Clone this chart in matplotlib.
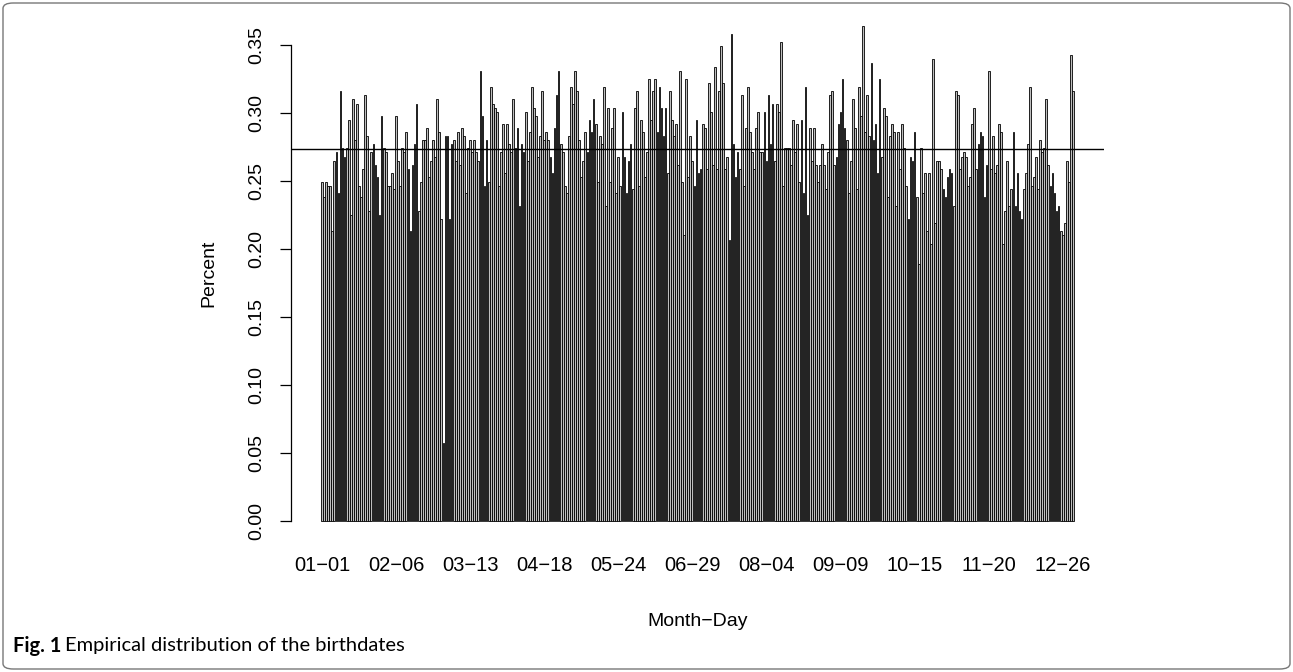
import matplotlib
matplotlib.use("Agg")
import matplotlib.pyplot as plt
from matplotlib.patches import FancyBboxPatch
import numpy as np

# percent of births on each calendar day (leap-year calendar, 366 days)
jan = [0.249, 0.238, 0.249, 0.246, 0.246, 0.213, 0.265, 0.271, 0.241, 0.316,
       0.274, 0.268, 0.274, 0.295, 0.225, 0.310, 0.280, 0.307, 0.246, 0.238,
       0.259, 0.313, 0.283, 0.228, 0.271, 0.277, 0.262, 0.253, 0.225, 0.298,
       0.274]
feb = [0.271, 0.246, 0.246, 0.256, 0.244, 0.298, 0.265, 0.246, 0.274, 0.271,
       0.286, 0.259, 0.213, 0.262, 0.277, 0.307, 0.228, 0.249, 0.280, 0.280,
       0.289, 0.253, 0.265, 0.280, 0.268, 0.310, 0.286, 0.222, 0.057]
mar = [0.283, 0.283, 0.222, 0.277, 0.280, 0.265, 0.286, 0.262, 0.289, 0.283,
       0.241, 0.274, 0.280, 0.271, 0.280, 0.271, 0.265, 0.331, 0.298, 0.246,
       0.280, 0.249, 0.319, 0.307, 0.304, 0.301, 0.246, 0.271, 0.292, 0.256,
       0.292]
apr = [0.277, 0.271, 0.310, 0.274, 0.289, 0.232, 0.277, 0.271, 0.301, 0.265,
       0.286, 0.319, 0.304, 0.298, 0.268, 0.283, 0.316, 0.280, 0.286, 0.280,
       0.268, 0.256, 0.289, 0.313, 0.331, 0.277, 0.271, 0.246, 0.241, 0.283]
may = [0.319, 0.307, 0.331, 0.316, 0.280, 0.253, 0.265, 0.286, 0.271, 0.295,
       0.286, 0.310, 0.292, 0.249, 0.283, 0.277, 0.319, 0.232, 0.304, 0.249,
       0.289, 0.304, 0.241, 0.268, 0.246, 0.301, 0.268, 0.241, 0.265, 0.277,
       0.244]
jun = [0.304, 0.316, 0.246, 0.295, 0.286, 0.253, 0.271, 0.325, 0.295, 0.316,
       0.325, 0.286, 0.319, 0.304, 0.283, 0.304, 0.256, 0.316, 0.295, 0.283,
       0.292, 0.262, 0.331, 0.249, 0.210, 0.325, 0.253, 0.283, 0.265, 0.246]
jul = [0.295, 0.256, 0.259, 0.292, 0.289, 0.259, 0.322, 0.301, 0.262, 0.334,
       0.259, 0.316, 0.349, 0.322, 0.259, 0.268, 0.207, 0.358, 0.277, 0.253,
       0.271, 0.259, 0.313, 0.246, 0.289, 0.319, 0.286, 0.271, 0.259, 0.289,
       0.301]
aug = [0.271, 0.271, 0.301, 0.265, 0.313, 0.277, 0.307, 0.265, 0.307, 0.301,
       0.352, 0.246, 0.274, 0.274, 0.274, 0.262, 0.295, 0.271, 0.292, 0.249,
       0.295, 0.241, 0.319, 0.225, 0.289, 0.265, 0.289, 0.262, 0.249, 0.262,
       0.277]
sep = [0.262, 0.244, 0.271, 0.313, 0.316, 0.262, 0.268, 0.292, 0.301, 0.325,
       0.289, 0.280, 0.241, 0.265, 0.310, 0.289, 0.244, 0.319, 0.298, 0.364,
       0.286, 0.313, 0.283, 0.337, 0.280, 0.292, 0.256, 0.325, 0.268, 0.304]
oct_ = [0.298, 0.238, 0.283, 0.292, 0.286, 0.232, 0.286, 0.259, 0.292, 0.274,
        0.246, 0.222, 0.268, 0.265, 0.286, 0.238, 0.189, 0.274, 0.241, 0.256,
        0.213, 0.256, 0.204, 0.340, 0.219, 0.265, 0.265, 0.259, 0.244, 0.238,
        0.253]
nov = [0.259, 0.256, 0.232, 0.316, 0.313, 0.259, 0.268, 0.271, 0.268, 0.246,
       0.253, 0.292, 0.304, 0.259, 0.277, 0.286, 0.283, 0.238, 0.262, 0.331,
       0.259, 0.283, 0.256, 0.262, 0.292, 0.286, 0.204, 0.228, 0.265, 0.232]
dec = [0.244, 0.286, 0.232, 0.256, 0.228, 0.222, 0.244, 0.256, 0.277, 0.319,
       0.246, 0.253, 0.268, 0.244, 0.280, 0.271, 0.274, 0.310, 0.262, 0.246,
       0.256, 0.241, 0.228, 0.232, 0.213, 0.210, 0.219, 0.265, 0.249, 0.343,
       0.316]

months = [jan, feb, mar, apr, may, jun, jul, aug, sep, oct_, nov, dec]
pct = np.concatenate(months)
day_names = [f"{m + 1:02d}\u2212{d + 1:02d}"
             for m, vals in enumerate(months) for d in range(len(vals))]

FONT = "Liberation Sans"
W, H = 1293, 672

fig = plt.figure(figsize=(W / 100, H / 100), dpi=100)
ax = fig.add_axes([291 / W, 131 / H, 813 / W, 535 / H])

# R barplot geometry: width 1, space 0.2
n = len(pct)
left = 0.2 + 1.2 * np.arange(n)
ax.bar(left, pct, width=1.0, align="edge", color="#BEBEBE",
       edgecolor="black", linewidth=0.6)
ax.axhline(100 / n, color="black", lw=1.0)

span = left[-1] + 1.0 - left[0]
ax.set_xlim(left[0] - 0.04 * span, left[-1] + 1.0 + 0.04 * span)
ax.set_ylim(-0.0147, 0.3787)

for s in ("top", "right", "bottom"):
    ax.spines[s].set_visible(False)
ax.spines["left"].set_bounds(0, 0.35)
ax.spines["left"].set_linewidth(0.9)

yt = np.arange(0, 0.351, 0.05)
ax.set_yticks(yt)
ax.set_yticklabels([f"{v:.2f}" for v in yt], rotation=90, va="center",
                   fontsize=14, family=FONT)
ax.tick_params(axis="y", length=7.7, width=0.9, pad=11)

idx = np.arange(0, n, 36)
ax.set_xticks(left[idx] + 0.5)
ax.set_xticklabels([day_names[i] for i in idx], fontsize=14.5, family=FONT)
ax.tick_params(axis="x", length=0, pad=11)

ax.set_ylabel("Percent", fontsize=14, family=FONT)
ax.yaxis.set_label_coords((209 - 291) / 813, 0.5)
ax.set_xlabel("Month\u2212Day", fontsize=14, family=FONT)
ax.xaxis.set_label_coords(0.5, -(621 - 541) / 535)
ax.xaxis.label.set_va("center")
ax.yaxis.label.set_va("center")

# journal figure frame and caption
frame = FancyBboxPatch((3 / W, 3 / H), (W - 6) / W, (H - 6) / H,
                       boxstyle="round,pad=0,rounding_size=0.008",
                       transform=fig.transFigure, fill=False,
                       edgecolor="#777777", lw=1.0)
fig.patches.append(frame)

t1 = fig.text(13 / W, 1 - 646 / H, "Fig. 1", fontsize=14.5, family="Lato",
              fontweight="bold", va="center", ha="left")
r = fig.canvas.get_renderer()
bb = t1.get_window_extent(renderer=r)
fig.text((bb.x1 + 4) / W, 1 - 646 / H, "Empirical distribution of the birthdates",
         fontsize=14.5, family="Lato", va="center", ha="left")

fig.savefig("out.png", dpi=100, facecolor="white")
